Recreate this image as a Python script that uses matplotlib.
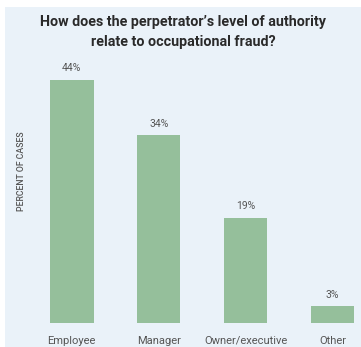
import matplotlib
matplotlib.use("Agg")
import matplotlib.pyplot as plt
import matplotlib.patches as patches

plt.rcParams['font.family'] = ['Roboto', 'DejaVu Sans']

# data
categories = ["Employee", "Manager", "Owner/executive", "Other"]
percents = [44, 34, 19, 3]
value_labels = ["44%", "34%", "19%", "3%"]

bg = "#eaf2f9"
bar_color = "#95bf9b"
text_gray = "#555555"

W, H = 361, 347
fig = plt.figure(figsize=(W / 100, H / 100), dpi=100, facecolor="white")

# light blue panel behind everything
fig.patches.append(patches.Rectangle((5 / W, 0), 1, (H - 7) / H, transform=fig.transFigure,
                                     facecolor=bg, edgecolor="none", zorder=-10))

# axes placed in pixel terms
ax = fig.add_axes([28 / W, 24 / H, (W - 28) / W, 248 / H])
ax.set_zorder(1)
ax.set_facecolor("none")
x = list(range(len(categories)))
bars = ax.bar(x, percents, width=0.5, color=bar_color)
ax.set_xlim(-0.503, 3.325)
ax.set_ylim(0, 44.9)

for xi, p, lab in zip(x, percents, value_labels):
    ax.text(xi, p + 1.2, lab, ha="center", va="bottom", fontsize=7.5, color=text_gray)

ax.set_xticks(x)
ax.set_xticklabels(categories, fontsize=8, color=text_gray)
ax.tick_params(axis="x", length=0, pad=9)
ax.set_yticks([])
for s in ax.spines.values():
    s.set_visible(False)

fig.text(22 / W, 1 - 171 / H, "PERCENT OF CASES", rotation=90, ha="center", va="center",
         fontsize=6.3, fontweight="medium", color=text_gray)

fig.text(183 / W, 1 - 22 / H, "How does the perpetrator\u2019s level of authority",
         ha="center", va="center", fontsize=10.3, fontweight="bold", color="#2a2a2a")
fig.text(183 / W, 1 - 42 / H, "relate to occupational fraud?",
         ha="center", va="center", fontsize=10.3, fontweight="bold", color="#2a2a2a")

fig.savefig("out.png", dpi=100, facecolor=fig.get_facecolor())
